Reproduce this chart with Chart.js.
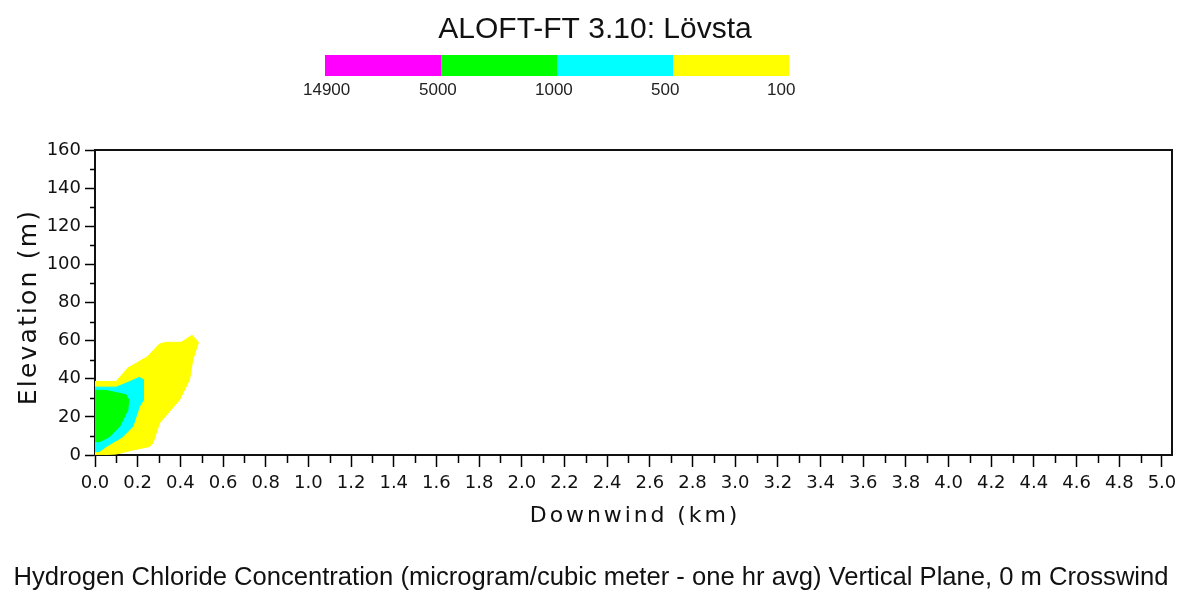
<!DOCTYPE html>
<html>
<head>
<meta charset="utf-8">
<title>ALOFT-FT 3.10: Lövsta</title>
<script src="https://cdn.jsdelivr.net/npm/chart.js@4.4.1/dist/chart.umd.min.js"></script>
<style>
  html, body { margin: 0; padding: 0; background: #ffffff; }
  #wrap { position: relative; width: 1179px; height: 590px; }
</style>
</head>
<body>
<div id="wrap"><canvas id="plume" width="1179" height="590"></canvas></div>
<script>
// ---- texts ----
const chartTitle = 'ALOFT-FT 3.10: Lövsta';
const captionText = 'Hydrogen Chloride Concentration (microgram/cubic meter - one hr avg) Vertical Plane, 0 m Crosswind';
const xAxisTitle = 'Downwind (km)';
const yAxisTitle = 'Elevation (m)';

// ---- concentration levels (µg/m³) and their band colours ----
const levelLabels = ['14900', '5000', '1000', '500', '100'];
const levelColors = ['#ff00ff', '#00ff00', '#00ffff', '#ffff00'];

// ---- axis ticks ----
const xTicks = [0.0, 0.2, 0.4, 0.6, 0.8, 1.0, 1.2, 1.4, 1.6, 1.8, 2.0, 2.2, 2.4,
                2.6, 2.8, 3.0, 3.2, 3.4, 3.6, 3.8, 4.0, 4.2, 4.4, 4.6, 4.8, 5.0];
const yTicks = [0, 20, 40, 60, 80, 100, 120, 140, 160];
const xRange = [0, 5.047];
const yRange = [0, 160];

// ---- contour outlines: downwind distance (km) / elevation (m) ----
// 100 µg/m³ band (yellow)
const band100X = [0, 0.099, 0.154, 0.208, 0.247, 0.302, 0.333, 0.404, 0.455, 0.485,
                  0.458, 0.443, 0.396, 0.302, 0.271, 0.255, 0.177, 0.099, 0, 0];
const band100Y = [38.6, 38.6, 45.6, 49.1, 51.7, 58.2, 59.1, 59.1, 62.8, 59.1,
                  50.0, 39.5, 28.9, 16.7, 6.1, 4.4, 2.6, 0.5, 0, 38.6];
// 500 µg/m³ band (cyan)
const band500X = [0, 0.099, 0.146, 0.208, 0.227, 0.227, 0.208, 0.177, 0.130, 0.052, 0.021, 0, 0];
const band500Y = [35.6, 35.6, 37.7, 40.7, 39.5, 28.9, 25.4, 14.9, 9.6, 4.4, 1.8, 1.8, 35.6];
// 1000 µg/m³ band (green)
const band1000X = [0, 0.052, 0.146, 0.158, 0.154, 0.115, 0.068, 0.021, 0, 0];
const band1000Y = [33.9, 33.9, 31.6, 28.9, 23.7, 14.9, 9.6, 7.0, 7.0, 33.9];

const toPoints = (xs, ys) => xs.map((x, i) => ({ x: x, y: ys[i] }));

function bandDataset(label, xs, ys, color, order) {
  return {
    label: label,
    data: toPoints(xs, ys),
    showLine: true,
    fill: 'shape',
    backgroundColor: color,
    borderColor: color,
    borderWidth: 1,
    pointRadius: 0,
    pointHoverRadius: 0,
    tension: 0,
    order: order
  };
}

const tickFont = { family: "'DejaVu Sans', sans-serif", size: 18 };

// Frame, minor ticks, title, colour scale, axis titles and caption
const decorPlugin = {
  id: 'decor',
  afterDraw(chart) {
    const ctx = chart.ctx;
    const a = chart.chartArea;
    const xs = chart.scales.x;
    const ys = chart.scales.y;
    ctx.save();

    // top and right frame lines
    ctx.strokeStyle = '#111';
    ctx.lineWidth = 2;
    ctx.beginPath();
    ctx.moveTo(a.left, a.top);
    ctx.lineTo(a.right, a.top);
    ctx.lineTo(a.right, a.bottom);
    ctx.stroke();

    // minor ticks halfway between the labelled ones
    ctx.lineWidth = 1.5;
    ctx.strokeStyle = '#000';
    ctx.beginPath();
    for (let i = 0; i < xTicks.length - 1; i++) {
      const px = Math.round(xs.getPixelForValue((xTicks[i] + xTicks[i + 1]) / 2)) + 0.5;
      ctx.moveTo(px, a.bottom);
      ctx.lineTo(px, a.bottom + 8);
    }
    for (let i = 0; i < yTicks.length - 1; i++) {
      const py = Math.round(ys.getPixelForValue((yTicks[i] + yTicks[i + 1]) / 2)) + 0.5;
      ctx.moveTo(a.left - 5, py);
      ctx.lineTo(a.left, py);
    }
    ctx.stroke();

    // title
    ctx.fillStyle = '#111';
    ctx.textAlign = 'center';
    ctx.textBaseline = 'alphabetic';
    ctx.font = "30px 'Liberation Sans', Arial, sans-serif";
    ctx.fillText(chartTitle, 595, 38);

    // colour scale
    const barLeft = 325, barRight = 789, barTop = 55, barBottom = 76;
    const seg = (barRight - barLeft) / levelColors.length;
    levelColors.forEach((c, i) => {
      ctx.fillStyle = c;
      ctx.fillRect(barLeft + i * seg, barTop, seg + (i < levelColors.length - 1 ? 0.5 : 0), barBottom - barTop);
    });
    ctx.fillStyle = '#222';
    ctx.textAlign = 'left';
    ctx.font = "17px 'Liberation Sans', Arial, sans-serif";
    levelLabels.forEach((t, i) => {
      ctx.fillText(t, barLeft + i * seg - 22, 95);
    });

    // axis titles
    ctx.fillStyle = '#111';
    ctx.textAlign = 'center';
    ctx.font = "22px 'DejaVu Sans', sans-serif";
    ctx.letterSpacing = '2.9px';
    ctx.fillText(xAxisTitle, (a.left + a.right) / 2 + 1.5, 522);
    ctx.save();
    ctx.translate(36, 308);
    ctx.rotate(-Math.PI / 2);
    ctx.font = "25px 'DejaVu Sans', sans-serif";
    ctx.letterSpacing = '2.2px';
    ctx.fillText(yAxisTitle, 1, 0);
    ctx.restore();
    ctx.letterSpacing = '0px';

    // caption
    ctx.font = "25.6px 'Liberation Sans', Arial, sans-serif";
    ctx.fillStyle = '#111';
    ctx.fillText(captionText, 591, 585);

    ctx.restore();
  }
};

new Chart(document.getElementById('plume'), {
  type: 'scatter',
  data: {
    datasets: [
      bandDataset('100', band100X, band100Y, levelColors[3], 3),
      bandDataset('500', band500X, band500Y, levelColors[2], 2),
      bandDataset('1000', band1000X, band1000Y, levelColors[1], 1)
    ]
  },
  options: {
    responsive: false,
    animation: false,
    devicePixelRatio: 1,
    layout: { padding: { left: 0, top: 150, right: 7, bottom: 0 } },
    plugins: {
      legend: { display: false },
      tooltip: { enabled: false },
      title: { display: false }
    },
    scales: {
      x: {
        type: 'linear',
        position: 'bottom',
        min: xRange[0],
        max: xRange[1],
        grid: { drawOnChartArea: false, drawTicks: true, tickLength: 12, tickWidth: 1.5, tickColor: '#000' },
        border: { display: true, color: '#111', width: 2 },
        ticks: {
          font: tickFont,
          color: '#111',
          padding: 6,
          maxRotation: 0,
          autoSkip: false,
          includeBounds: false,
          callback: (v) => Number(v).toFixed(1)
        },
        afterBuildTicks: (s) => { s.ticks = xTicks.map(v => ({ value: v })); },
        afterFit: (s) => { s.height = 135; s.paddingLeft = 0; s.paddingRight = 0; }
      },
      y: {
        type: 'linear',
        position: 'left',
        min: yRange[0],
        max: yRange[1],
        grid: { drawOnChartArea: false, drawTicks: true, tickLength: 10, tickWidth: 1.5, tickColor: '#000' },
        border: { display: true, color: '#111', width: 2 },
        ticks: {
          font: tickFont,
          color: '#111',
          padding: 4,
          autoSkip: false,
          includeBounds: false,
          callback: (v) => String(v)
        },
        afterBuildTicks: (s) => { s.ticks = yTicks.map(v => ({ value: v })); },
        afterFit: (s) => { s.width = 95; s.paddingTop = 0; s.paddingBottom = 0; }
      }
    }
  },
  plugins: [decorPlugin]
});
</script>
</body>
</html>
